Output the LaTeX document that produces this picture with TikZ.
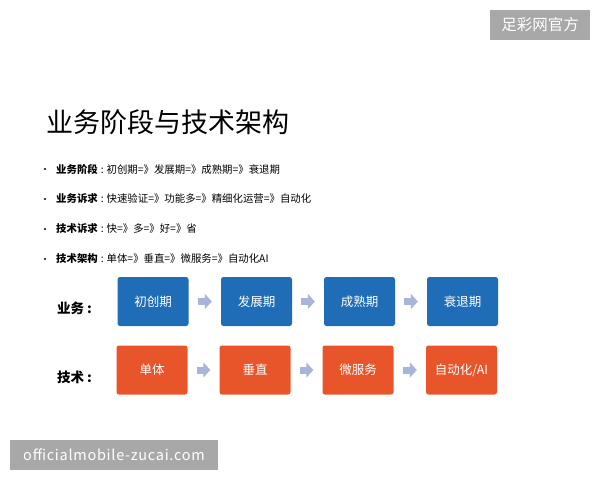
\documentclass[tikz,border=0pt]{standalone}
\usepackage{fontspec}
\setmainfont{Noto Sans CJK SC}
\newfontfamily\cjk{Noto Sans CJK SC}
\newfontfamily\wmfont[LetterSpace=5]{Noto Sans CJK SC}
\usetikzlibrary{arrows.meta}
\definecolor{bizblue}{HTML}{1E6DB6}
\definecolor{techorange}{HTML}{E8552B}
\definecolor{arrowgray}{HTML}{A8B4D8}
\definecolor{wmgray}{HTML}{A8A8A8}
\newcommand{\colsep}{\hspace{3pt}:\hspace{3pt}}
\tikzset{
  bizbox/.style={fill=bizblue, rounded corners=2.5pt, minimum width=71pt, minimum height=49pt, inner sep=0pt, text=white, font=\cjk\fontsize{12.5}{14}\selectfont},
  techbox/.style={bizbox, fill=techorange},
  blockarrow/.style={draw=arrowgray, line width=7pt, -{Triangle[width=15pt,length=7pt]}},
  bullettext/.style={anchor=west, inner sep=0pt, font=\cjk\fontsize{10.4}{12}\selectfont},
  bulletdot/.style={circle, fill=black, inner sep=0pt, minimum size=2.4pt},
  rowlabel/.style={anchor=west, inner sep=0pt, font=\cjk\bfseries\fontsize{13.5}{15}\selectfont},
  wmbox/.style={fill=wmgray, text=white, inner sep=0pt, font=\cjk\fontsize{15.5}{17}\selectfont}
}
\begin{document}
\begin{tikzpicture}[x=1pt,y=-1pt]
\useasboundingbox[fill=white] (0,0) rectangle (600,480);
% watermarks
\node[wmbox, minimum width=100pt, minimum height=30pt] (wmtop) at (540,25) {足彩网官方};
\node[wmbox, minimum width=208pt, minimum height=30pt, font=\wmfont\fontsize{14.5}{17}\selectfont] (wmbot) at (114,455) {officialmobile-zucai.com};
% title
\node[anchor=west, inner sep=0pt, font=\cjk\fontsize{27}{30}\selectfont] (title) at (46,122) {业务阶段与技术架构};
% bullets
\node[bulletdot] (d1) at (45,169) {};
\node[bullettext] (t1) at (56,169) {\textbf{业务阶段}\colsep 初创期=》发展期=》成熟期=》衰退期};
\node[bulletdot] (d2) at (45,199) {};
\node[bullettext] (t2) at (56,199) {\textbf{业务诉求}\colsep 快速验证=》功能多=》精细化运营=》自动化};
\node[bulletdot] (d3) at (45,229) {};
\node[bullettext] (t3) at (56,229) {\textbf{技术诉求}\colsep 快=》多=》好=》省};
\node[bulletdot] (d4) at (45,259) {};
\node[bullettext] (t4) at (56,259) {\textbf{技术架构}\colsep 单体=》垂直=》微服务=》自动化AI};
% row labels
\node[rowlabel] (lbiz) at (57,308) {业务\hspace{3pt}:};
\node[rowlabel] (ltech) at (57,377) {技术\hspace{3pt}:};
% business row
\node[bizbox] (b1) at (153,301.5) {初创期};
\node[bizbox] (b2) at (256.5,301.5) {发展期};
\node[bizbox] (b3) at (359.5,301.5) {成熟期};
\node[bizbox] (b4) at (462.5,301.5) {衰退期};
% tech row
\node[techbox] (c1) at (152,370) {单体};
\node[techbox] (c2) at (255,370) {垂直};
\node[techbox] (c3) at (358,370) {微服务};
\node[techbox] (c4) at (461.5,370) {自动化/AI};
% arrows
\foreach \a/\b in {b1/b2,b2/b3,b3/b4,c1/c2,c2/c3,c3/c4}{
  \draw[blockarrow] ([xshift=9pt]\a.east) -- ([xshift=-9pt]\b.west);
}
\end{tikzpicture}
\end{document}
